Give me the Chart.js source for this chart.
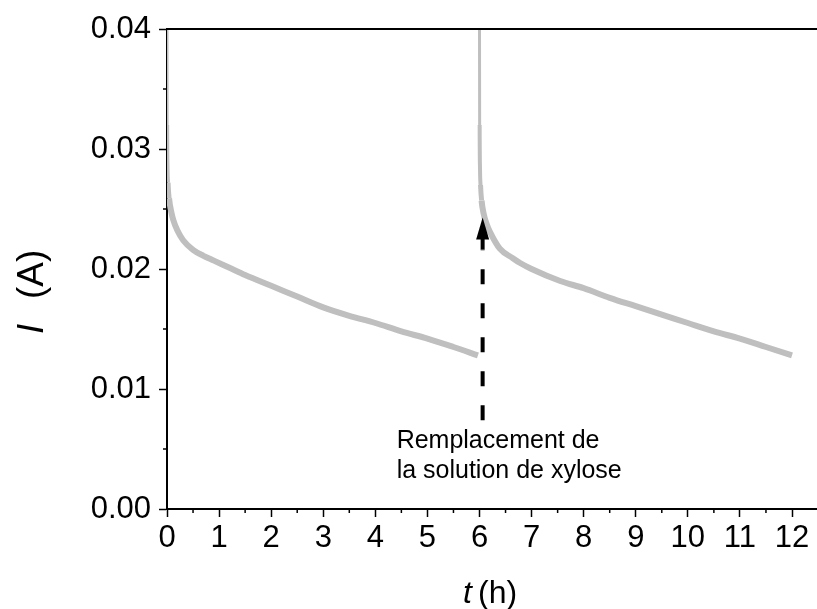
<!DOCTYPE html>
<html>
<head>
<meta charset="utf-8">
<title>Chronoampérométrie</title>
<script src="https://cdn.jsdelivr.net/npm/chart.js@4"></script>
<style>
    html, body { margin: 0; padding: 0; background: #fff; }
    canvas { display: block; }
</style>
</head>
<body>
<canvas id="currentChart" width="817" height="609"></canvas>
<script>
// Time (h) and current (A)
// run 1: fresh xylose solution
const run1Time = [
    0, 0.003, 0.01, 0.02, 0.04, 0.08, 0.12, 0.2, 0.31, 0.5, 0.7, 0.9,
    1.2, 1.5, 2.0, 2.5, 3.0, 3.5, 4.0, 4.5, 5.0, 5.5, 5.97
];
const run1Current = [
    0.040, 0.032, 0.0285, 0.0272, 0.0259, 0.0248, 0.0241, 0.0232, 0.0224, 0.0216, 0.0211, 0.0207,
    0.0201, 0.0195, 0.0186, 0.0177, 0.0168, 0.0161, 0.0155, 0.0148, 0.0142, 0.0135, 0.0128
];
// run 2: after the solution was replaced at t = 6 h
const run2Time = [
    6.0, 6.003, 6.01, 6.02, 6.04, 6.08, 6.14, 6.2, 6.39, 6.64, 6.78,
    7.0, 7.55, 8.0, 8.5, 9.0, 9.5, 10.0, 10.5, 11.0, 11.5, 12.0
];
const run2Current = [
    0.040, 0.032, 0.0283, 0.0270, 0.0257, 0.0246, 0.0237, 0.0231, 0.0217, 0.0209, 0.0205,
    0.0200, 0.0190, 0.0184, 0.0176, 0.0169, 0.0162, 0.0155, 0.0148, 0.0142, 0.0135, 0.0128
];

// Axis ticks
const xTickValues = [0, 1, 2, 3, 4, 5, 6, 7, 8, 9, 10, 11, 12];
const xMinorTicks = [0.5, 1.5, 2.5, 3.5, 4.5, 5.5, 6.5, 7.5, 8.5, 9.5, 10.5, 11.5];
const yTickValues = [0, 0.01, 0.02, 0.03, 0.04];
const yMinorTicks = [0.005, 0.015, 0.025, 0.035];

// Annotation: arrow marking the solution replacement
const arrowTime = 6.06;
const arrowFrom = 0.0074;
const arrowTo = 0.0243;
const annotationLines = ['Remplacement de', 'la solution de xylose'];

const FONT = 'Arial, "Liberation Sans", sans-serif';
const CURVE_COLOR = '#bfbfbf';

/**
 * Frame line, minor ticks, arrow, annotation and axis titles
 */
const decorPlugin = {
    id: 'decor',
    afterDatasetsDraw(chart) {
        const ctx = chart.ctx;
        const xs = chart.scales.x;
        const ys = chart.scales.y;
        const area = chart.chartArea;

        ctx.save();
        ctx.strokeStyle = '#000';
        ctx.fillStyle = '#000';

        // top frame line
        ctx.lineWidth = 2;
        ctx.beginPath();
        ctx.moveTo(area.left, area.top);
        ctx.lineTo(area.right + 2, area.top);
        ctx.stroke();

        // minor ticks
        ctx.lineWidth = 1.5;
        xMinorTicks.forEach(v => {
            const px = xs.getPixelForValue(v);
            ctx.beginPath();
            ctx.moveTo(px, area.bottom);
            ctx.lineTo(px, area.bottom + 4);
            ctx.stroke();
        });
        yMinorTicks.forEach(v => {
            const py = ys.getPixelForValue(v);
            ctx.beginPath();
            ctx.moveTo(area.left, py);
            ctx.lineTo(area.left - 4, py);
            ctx.stroke();
        });

        // dashed arrow
        const ax = xs.getPixelForValue(arrowTime);
        const yBase = ys.getPixelForValue(arrowFrom);
        const yTip = ys.getPixelForValue(arrowTo);
        ctx.lineWidth = 4;
        ctx.setLineDash([15, 19]);
        ctx.beginPath();
        ctx.moveTo(ax, yBase);
        ctx.lineTo(ax, yTip + 32);
        ctx.stroke();
        ctx.setLineDash([]);
        ctx.beginPath();
        ctx.moveTo(ax, yTip + 32);
        ctx.lineTo(ax, yTip + 18);
        ctx.stroke();
        ctx.beginPath();
        ctx.moveTo(ax, yTip);
        ctx.lineTo(ax - 6.5, yTip + 22);
        ctx.lineTo(ax + 6.5, yTip + 22);
        ctx.closePath();
        ctx.fill();

        // annotation text
        ctx.font = '25px ' + FONT;
        ctx.textAlign = 'left';
        ctx.textBaseline = 'alphabetic';
        ctx.fillText(annotationLines[0], ax - 86, yBase + 28);
        ctx.fillText(annotationLines[1], ax - 86, yBase + 58);

        // x title: t (h)
        ctx.font = 'italic 32px ' + FONT;
        ctx.fillText('t', 463, 603);
        ctx.font = '32px ' + FONT;
        ctx.fillText('(h)', 478, 603);

        // y title: I (A), rotated
        ctx.translate(43, 332);
        ctx.rotate(-Math.PI / 2);
        ctx.font = 'italic 37px ' + FONT;
        ctx.fillText('I', -2, 0);
        ctx.font = '37px ' + FONT;
        ctx.fillText('(A)', 33, 0);

        ctx.restore();
    }
};

function toPoints(times, values) {
    return times.map((t, i) => ({ x: t, y: values[i] }));
}

// near-vertical parts of the trace look thinner than the noisy decay
function segmentWidth(ctx) {
    const dt = ctx.p1.parsed.x - ctx.p0.parsed.x;
    if (dt < 0.005) return 3;
    if (dt < 0.015) return 4;
    if (dt < 0.03) return 5;
    return 6;
}

function curveDataset(points) {
    return {
        data: points,
        borderColor: CURVE_COLOR,
        borderWidth: 6,
        pointRadius: 0,
        cubicInterpolationMode: 'monotone',
        fill: false,
        segment: { borderWidth: segmentWidth }
    };
}

const tickFont = { family: FONT, size: 31 };
const axisGrid = {
    drawOnChartArea: false,
    drawTicks: true,
    tickLength: 8,
    tickWidth: 1.5,
    tickColor: '#000'
};

new Chart(document.getElementById('currentChart'), {
    type: 'line',
    data: {
        datasets: [
            curveDataset(toPoints(run1Time, run1Current)),
            curveDataset(toPoints(run2Time, run2Current))
        ]
    },
    options: {
        responsive: false,
        animation: false,
        layout: { padding: { top: 29, right: 0, bottom: 0, left: 0 } },
        plugins: {
            legend: { display: false },
            tooltip: { enabled: false }
        },
        scales: {
            x: {
                type: 'linear',
                min: 0,
                max: 12.48,
                afterBuildTicks: scale => {
                    scale.ticks = xTickValues.map(v => ({ value: v }));
                },
                afterFit: scale => { scale.height = 100; },
                grid: axisGrid,
                border: { color: '#000', width: 2 },
                ticks: {
                    color: '#000',
                    font: tickFont,
                    padding: 3,
                    maxRotation: 0,
                    autoSkip: false
                }
            },
            y: {
                min: 0,
                max: 0.04,
                afterBuildTicks: scale => {
                    scale.ticks = yTickValues.map(v => ({ value: v }));
                },
                afterFit: scale => { scale.width = 167; },
                grid: axisGrid,
                border: { color: '#000', width: 2 },
                ticks: {
                    color: '#000',
                    font: tickFont,
                    padding: 8,
                    callback: v => v.toFixed(2)
                }
            }
        }
    },
    plugins: [decorPlugin]
});
</script>
</body>
</html>
